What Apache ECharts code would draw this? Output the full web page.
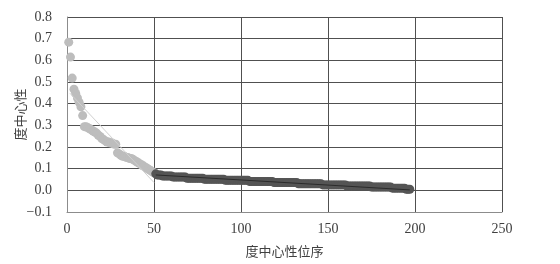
<!DOCTYPE html>
<html><head><meta charset="utf-8">
<script src="https://cdn.jsdelivr.net/npm/echarts@6/dist/echarts.min.js"></script>
<style>html,body{margin:0;padding:0;background:#fff}#c{width:560px;height:264px}</style>
</head><body><div id="c"></div>
<script>
// Ranks 1-50 (light gray)
const topRanks = [1,2,3,4,5,6,7,8,9,10,11,12,13,14,15,16,17,18,19,20,21,22,23,24,25,26,27,28,29,30,31,32,33,34,35,36,37,38,39,40,41,42,43,44,45,46,47,48,49,50];
const topValues = [0.684,0.615,0.518,0.467,0.447,0.426,0.406,0.386,0.345,0.294,0.294,0.289,0.284,0.279,0.274,0.269,0.264,0.254,0.249,0.239,0.234,0.228,0.223,0.223,0.218,0.218,0.213,0.213,0.173,0.168,0.162,0.157,0.157,0.152,0.152,0.147,0.147,0.142,0.137,0.132,0.127,0.122,0.117,0.112,0.107,0.102,0.096,0.091,0.086,0.081];
// Ranks 51-197 (dark gray)
const restStartRank = 51;
const restValues = [
0.076,0.071,0.071,0.071,0.066,0.066,0.066,0.066,0.066,0.066,
0.061,0.061,0.061,0.061,0.061,0.061,0.061,0.061,
0.056,0.056,0.056,0.056,0.056,0.056,0.056,0.056,0.056,0.056,
0.051,0.051,0.051,0.051,0.051,0.051,0.051,0.051,0.051,0.051,0.051,0.051,
0.046,0.046,0.046,0.046,0.046,0.046,0.046,0.046,0.046,0.046,0.046,0.046,0.046,0.046,
0.041,0.041,0.041,0.041,0.041,0.041,0.041,0.041,0.041,0.041,0.041,0.041,0.041,0.041,
0.036,0.036,0.036,0.036,0.036,0.036,0.036,0.036,0.036,0.036,0.036,0.036,0.036,0.036,
0.030,0.030,0.030,0.030,0.030,0.030,0.030,0.030,0.030,0.030,0.030,0.030,0.030,0.030,
0.025,0.025,0.025,0.025,0.025,0.025,0.025,0.025,0.025,0.025,0.025,0.025,0.025,0.025,
0.020,0.020,0.020,0.020,0.020,0.020,0.020,0.020,0.020,0.020,0.020,0.020,0.020,0.020,
0.015,0.015,0.015,0.015,0.015,0.015,0.015,0.015,0.015,0.015,0.015,0.015,
0.010,0.010,0.010,0.010,0.010,0.010,0.010,0.010,
0.005,0.005,0.005];
// Linear trend lines (endpoints)
const topTrend = [[1.7,0.448],[50,0.036]];
const restTrend = [[51,0.071],[197,0.002]];

const xTicks = {min:0,max:250,interval:50};
const yTicks = {min:-0.1,max:0.8,interval:0.1};
const xTitle = '度中心性位序';
const yTitle = '度中心性';

const topData = topRanks.map((r,i)=>[r,topValues[i]]);
const restData = restValues.map((v,i)=>[restStartRank+i,v]);

const chart = echarts.init(document.getElementById('c'),null,{renderer:'canvas'});
const serif = '"Liberation Serif","DejaVu Serif",serif';
const cjk = '"Noto Sans CJK SC",sans-serif';
chart.setOption({
  animation:false,
  backgroundColor:'#fff',
  grid:{left:67,right:58,top:17,bottom:52,containLabel:false,outerBoundsMode:'none'},
  xAxis:{type:'value',min:xTicks.min,max:xTicks.max,interval:xTicks.interval,
    name:xTitle,nameLocation:'middle',nameGap:33,nameMoveOverlap:false,
    nameTextStyle:{fontFamily:cjk,fontSize:13,color:'#404040'},
    axisLine:{show:true,onZero:false,lineStyle:{color:'#8c8c8c',width:1}},
    axisTick:{show:false},
    axisLabel:{fontFamily:serif,fontSize:14,color:'#404040',margin:10},
    splitLine:{show:true,lineStyle:{color:'#505050',width:1}}},
  yAxis:{type:'value',min:yTicks.min,max:yTicks.max,interval:yTicks.interval,
    name:yTitle,nameLocation:'middle',nameGap:40,nameRotate:90,nameMoveOverlap:false,
    nameTextStyle:{fontFamily:cjk,fontSize:13,color:'#404040'},
    axisLine:{show:true,lineStyle:{color:'#8c8c8c',width:1}},
    axisTick:{show:false},
    axisLabel:{fontFamily:serif,fontSize:14,color:'#404040',margin:15,
      formatter:v=>{const s=v.toFixed(1);return s==='-0.0'?'0.0':s.replace('-','\u2212');}},
    splitLine:{show:true,lineStyle:{color:'#505050',width:1}}},
  series:[
    {type:'scatter',data:topData,symbol:'circle',symbolSize:9,
      itemStyle:{color:'#bdbdbd',opacity:1},z:2},
    {type:'scatter',data:restData,symbol:'circle',symbolSize:9,
      itemStyle:{color:'#555555',opacity:1},z:3},
    {type:'line',data:topTrend,showSymbol:false,symbol:'none',
      lineStyle:{color:'#d0d0d0',width:1},z:4},
    {type:'line',data:restTrend,showSymbol:false,symbol:'none',
      lineStyle:{color:'#2b2b2b',width:1},z:4}
  ]
});
</script></body></html>
